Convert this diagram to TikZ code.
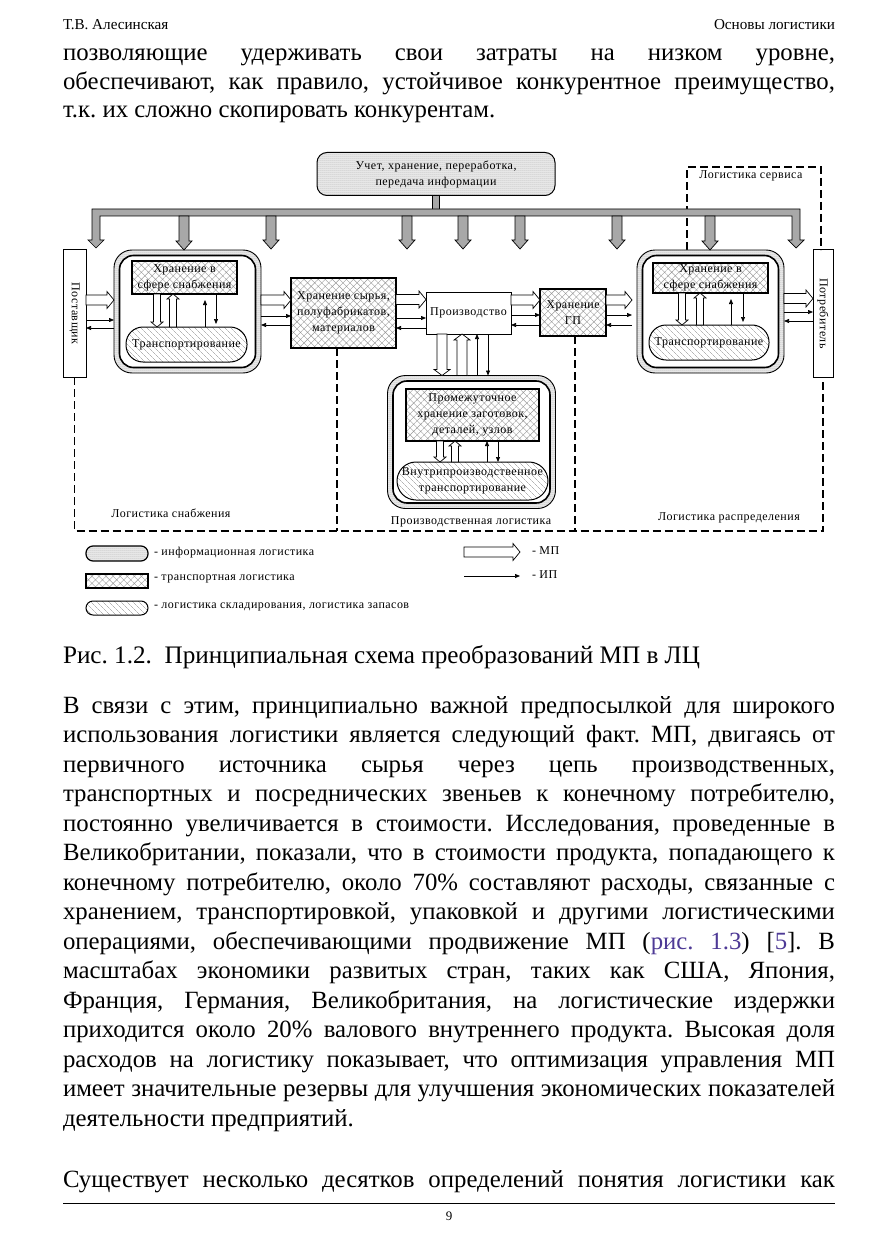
\documentclass[tikz,border=0pt]{standalone}
\usepackage{fontspec}
\setmainfont{Liberation Serif}
\newfontfamily\dgfont[LetterSpace=4]{Liberation Serif}
\usetikzlibrary{calc,patterns.meta,arrows.meta}
\newlength\Lw
\definecolor{linkc}{HTML}{4E3A96}
\definecolor{busgray}{HTML}{A8A8A8}
\frenchspacing
\tikzset{
 every node/.style={inner sep=0pt, outer sep=0pt},
 dg/.style={font=\dgfont\fontsize{12}{16}\selectfont, align=center},
 lbl/.style={font=\dgfont\fontsize{12}{14}\selectfont},
 infofill/.style={preaction={fill=gray!12}, pattern={Dots[distance=2pt,radius=0.5pt]}, pattern color=black!45},
 trfill/.style={preaction={fill=white}, pattern={Hatch[angle=45,distance=5pt,line width=0.4pt]}, pattern color=black!40},
 stfill/.style={preaction={fill=white}, pattern={Lines[angle=-45,distance=4pt,line width=0.4pt]}, pattern color=black!45},
 infobox/.style={draw, line width=1pt, rounded corners=10pt, infofill, dg},
 trbox/.style={draw, line width=1.4pt, trfill, dg},
 stbox/.style={draw, line width=1pt, rounded corners=17pt, stfill, dg},
 plainbox/.style={draw, line width=1pt, fill=white, dg},
 frameout/.style={draw, line width=0.9pt, rounded corners=18pt, infofill},
 framein/.style={draw, line width=1.6pt, rounded corners=14pt, fill=white},
 mpst/.style={draw, line width=0.7pt, fill=white, line join=miter},
 ip/.style={draw, line width=0.7pt, -{Triangle[length=5pt,width=4pt]}},
 grarrow/.style={draw, line width=0.7pt, fill=busgray},
 region/.style={draw, line width=1.6pt, dash pattern=on 8pt off 4pt},
}
% hollow (material flow) arrows: start, tip, half shaft, half head, head length
\newcommand\mpR[6][mpst]{\path[#1] ($(#2)+(0,-#4)$) -- ($(#3)+(-#6,-#4)$) -- ($(#3)+(-#6,-#5)$) -- (#3) -- ($(#3)+(-#6,#5)$) -- ($(#3)+(-#6,#4)$) -- ($(#2)+(0,#4)$) -- cycle;}
\newcommand\mpD[6][mpst]{\path[#1] ($(#2)+(-#4,0)$) -- ($(#3)+(-#4,-#6)$) -- ($(#3)+(-#5,-#6)$) -- (#3) -- ($(#3)+(#5,-#6)$) -- ($(#3)+(#4,-#6)$) -- ($(#2)+(#4,0)$) -- cycle;}
\newcommand\mpU[6][mpst]{\path[#1] ($(#2)+(-#4,0)$) -- ($(#3)+(-#4,#6)$) -- ($(#3)+(-#5,#6)$) -- (#3) -- ($(#3)+(#5,#6)$) -- ($(#3)+(#4,#6)$) -- ($(#2)+(#4,0)$) -- cycle;}
\newcommand\bodyf{\fontsize{\bodysz}{\bodysz}\selectfont}
\newcommand\jl[3]{\node[anchor=base west, font=\bodyf] (#1) at (63,#2) {\makebox[772pt][s]{#3}};}
\newcommand\nl[3]{\node[anchor=base west, font=\bodyf] (#1) at (63,#2) {#3};}
\begin{document}
\settowidth\Lw{\fontsize{20}{20}\selectfont имеет значительные резервы для улучшения экономических показателей}%
\pgfmathsetmacro\bodysz{20*770/\Lw}%
\settowidth\Lw{\fontsize{20}{20}\selectfont Основы логистики}%
\pgfmathsetmacro\headsz{20*121/\Lw}%
\settowidth\Lw{\fontsize{20}{20}\selectfont Рис. 1.2.\ \ Принципиальная схема преобразований МП в ЛЦ}%
\pgfmathsetmacro\capsz{20*637/\Lw}%
\begin{tikzpicture}[x=1pt,y=-1pt]
\useasboundingbox (0,0) rectangle (877,1241);
\fill[white] (0,0) rectangle (877,1241);

% ---------- page text ----------
\node[anchor=base west, font=\fontsize{\headsz}{\headsz}\selectfont] (hl) at (63,30) {Т.В. Алесинская};
\node[anchor=base east, font=\fontsize{\headsz}{\headsz}\selectfont] (hr) at (835,30) {Основы логистики};
\jl{t1}{61}{позволяющие удерживать свои затраты на низком уровне,}
\jl{t2}{89.5}{обеспечивают, как правило, устойчивое конкурентное преимущество,}
\nl{t3}{118}{т.к. их сложно скопировать конкурентам.}

\node[anchor=base west, font=\fontsize{\capsz}{\capsz}\selectfont] (cap) at (63,663) {Рис. 1.2.\ \ Принципиальная схема преобразований МП в ЛЦ};

\jl{p1}{713}{В связи с этим, принципиально важной предпосылкой для широкого}
\jl{p2}{742.5}{использования логистики является следующий факт. МП, двигаясь от}
\jl{p3}{772}{первичного источника сырья через цепь производственных,}
\jl{p4}{801.5}{транспортных и посреднических звеньев к конечному потребителю,}
\jl{p5}{831}{постоянно увеличивается в стоимости. Исследования, проведенные в}
\jl{p6}{860.5}{Великобритании, показали, что в стоимости продукта, попадающего к}
\jl{p7}{890}{конечному потребителю, около 70\% составляют расходы, связанные с}
\jl{p8}{919.5}{хранением, транспортировкой, упаковкой и другими логистическими}
\jl{p9}{949}{операциями, обеспечивающими продвижение МП (\textcolor{linkc}{рис. 1.3}) [\textcolor{linkc}{5}]. В}
\jl{p10}{978.5}{масштабах экономики развитых стран, таких как США, Япония,}
\jl{p11}{1008}{Франция, Германия, Великобритания, на логистические издержки}
\jl{p12}{1037.5}{приходится около 20\% валового внутреннего продукта. Высокая доля}
\jl{p13}{1067}{расходов на логистику показывает, что оптимизация управления МП}
\jl{p14}{1096.5}{имеет значительные резервы для улучшения экономических показателей}
\nl{p15}{1126}{деятельности предприятий.}
\jl{q1}{1187}{Существует несколько десятков определений понятия логистики как}
\draw[line width=0.8pt] (63,1203) coordinate (fr1) -- (835,1203) coordinate (fr2);
\node[font=\fontsize{13}{13}\selectfont] (pg) at (449,1216) {9};

% ---------- dashed regions ----------
\coordinate (sv1) at (687,167);
\coordinate (sv2) at (821,167);

% ---------- boxes ----------
\node[infobox, minimum width=238pt, minimum height=43pt] (info) at (436,174) {Учет, хранение, переработка,\\передача информации};
\node[plainbox, minimum width=23pt, minimum height=127pt] (post) at (74.5,313.5) {};
\node[dg, rotate=-90] (postT) at (post.center) {Поставщик};
\node[plainbox, minimum width=20pt, minimum height=127pt] (cons) at (823,313.5) {};
\node[dg, rotate=-90] (consT) at (cons.center) {Потребитель};

\draw[region] (post.south) -- (post.south |- 0,531) -- (cons.south |- 0,531) -- (cons.south);
\draw[region] (687,250) -- (sv1) -- (sv2) -- (cons.north -| sv2);

\node[frameout, minimum width=147pt, minimum height=123pt] (lframe) at (187.5,311.5) {};
\node[framein, minimum width=136pt, minimum height=112pt] (lframeIn) at (lframe.center) {};
\node[trbox, minimum width=105pt, minimum height=33pt] (lstore) at (184.5,277.5) {Хранение в\\сфере снабжения};
\node[stbox, minimum width=121pt, minimum height=35pt] (ltrans) at (186.5,344.5) {Транспортирование};

\node[trbox, minimum width=105pt, minimum height=70pt] (raw) at (343.5,313) {Хранение сырья,\\полуфабрикатов,\\материалов};
\node[plainbox, minimum width=85pt, minimum height=42pt] (prod) at (468.5,313) {Производство};
\node[trbox, minimum width=66pt, minimum height=47pt] (gp) at (573,312.5) {Хранение\\ГП};

\node[frameout, minimum width=147pt, minimum height=123pt] (rframe) at (710.5,311.5) {};
\node[framein, minimum width=136pt, minimum height=112pt] (rframeIn) at (rframe.center) {};
\node[trbox, minimum width=115pt, minimum height=30pt] (rstore) at (710.5,278) {Хранение в\\сфере снабжения};
\node[stbox, minimum width=120pt, minimum height=35pt] (rtrans) at (709,342.5) {Транспортирование};

\node[frameout, minimum width=168pt, minimum height=133pt] (mframe) at (471.5,442) {};
\node[framein, minimum width=157pt, minimum height=122pt] (mframeIn) at (mframe.center) {};
\node[trbox, minimum width=133pt, minimum height=52pt] (mstore) at (472.5,415) {Промежуточное\\хранение заготовок,\\деталей, узлов};
\node[stbox, rounded corners=19pt, minimum width=151pt, minimum height=38pt] (mtrans) at (472.5,481) {Внутрипроизводственное\\транспортирование};

\draw[region] (raw.south -| 337,0) -- (337,531);
\draw[region] (gp.south -| 575,0) -- (575,531);

% ---------- information bus ----------
\path[grarrow] (info.south -| 432,0) rectangle (439,209);
\path[grarrow] (92,209) -- (800,209) -- (800,240) -- (804,240) -- (796,248) -- (788,240) -- (792,240) -- (792,216) -- (100,216) -- (100,240) -- (104,240) -- (96,248) -- (88,240) -- (92,240) -- cycle;
\mpD[grarrow]{184,216}{lframe.north -| 184,0}{5}{8}{9}
\mpD[grarrow]{710,216}{rframe.north -| 710,0}{5}{8}{9}
\foreach \xx in {271,407,463,520,617} {\mpD[grarrow]{\xx,216}{\xx,249}{5}{8}{9}}

% ---------- flows between boxes ----------
\mpR{post.east |- 0,300}{lframe.west |- 0,300}{5}{8.5}{7}
\draw[ip] (post.east |- 0,320) -- (lframe.west |- 0,320);
\draw[ip] (lframe.west |- 0,328) -- (post.east |- 0,328);

\mpR{lframe.east |- 0,300}{raw.west |- 0,300}{5}{8.5}{7}
\draw[ip] (lframe.east |- 0,316) -- (raw.west |- 0,316);
\draw[ip] (raw.west |- 0,325) -- (lframe.east |- 0,325);

\mpR{raw.east |- 0,299.5}{prod.west |- 0,299.5}{5}{8.5}{7}
\draw[ip] (raw.east |- 0,318) -- (prod.west |- 0,318);
\draw[ip] (prod.west |- 0,328) -- (raw.east |- 0,328);

\mpR{prod.east |- 0,300}{gp.west |- 0,300}{5}{8.5}{7}
\draw[ip] (prod.east |- 0,315) -- (gp.west |- 0,315);
\draw[ip] (gp.west |- 0,325) -- (prod.east |- 0,325);

\coordinate (gpr) at ($(rframe.west |- 0,300)+(-5,0)$);
\mpR{gp.east |- 0,300}{gpr}{5}{8.5}{7}
\draw[ip, shorten >=5pt] (gp.east |- 0,315) -- (rframe.west |- 0,315);
\draw[ip, shorten <=5pt] (rframe.west |- 0,325) -- (gp.east |- 0,325);

\mpR{rframe.east |- 0,298.5}{cons.west |- 0,298.5}{5}{8.5}{7}
\draw[ip] (rframe.east |- 0,312) -- (cons.west |- 0,312);
\draw[ip] (cons.west |- 0,321) -- (rframe.east |- 0,321);

% production <-> middle frame
\mpD{prod.south -| 442,0}{mframe.north -| 442,0}{5}{8}{6}
\mpU{mframe.north -| 462,0}{prod.south -| 462,0}{5}{8}{6}
\draw[ip] (mframe.north -| 477,0) -- (prod.south -| 477,0);
\draw[ip] (prod.south -| 488,0) -- (mframe.north -| 488,0);

% inside frames
\mpD{lstore.south -| 157,0}{ltrans.north -| 157,0}{3.5}{6}{5}
\mpU{ltrans.north -| 173,0}{lstore.south -| 173,0}{3.5}{6}{5}
\draw[ip, shorten >=6pt] (ltrans.north -| 205,0) -- (lstore.south -| 205,0);
\draw[ip, shorten >=3pt] (lstore.south -| 216,0) -- (ltrans.north -| 216,0);

\mpD{rstore.south -| 682,0}{rtrans.north -| 682,0}{3.5}{6}{5}
\mpU{rtrans.north -| 700,0}{rstore.south -| 700,0}{3.5}{6}{5}
\draw[ip, shorten >=6pt] (rtrans.north -| 731,0) -- (rstore.south -| 731,0);
\draw[ip, shorten >=3pt] (rstore.south -| 743,0) -- (rtrans.north -| 743,0);

\mpD{mstore.south -| 440,0}{mtrans.north -| 440,0}{3.5}{6}{5}
\mpU{mtrans.north -| 455,0}{mstore.south -| 455,0}{3.5}{6}{5}
\draw[ip] (mtrans.north -| 487,0) -- (mstore.south -| 487,0);
\draw[ip] (mstore.south -| 498,0) -- (mtrans.north -| 498,0);

% ---------- region labels ----------
\node[lbl] (lsn) at (171,513) {Логистика снабжения};
\node[lbl] (lpr) at (471,522) {Производственная логистика};
\node[lbl] (lrs) at (729,518) {Логистика распределения};
\node[lbl] (lsv) at (751,176) {Логистика сервиса};

% ---------- legend ----------
\node[draw, line width=1.2pt, rounded corners=7pt, infofill, minimum width=62pt, minimum height=15pt] (lg1) at (117,553.5) {};
\node[lbl, anchor=west] (lg1t) at (154,553) {- информационная логистика};
\node[trbox, minimum width=62pt, minimum height=14pt] (lg2) at (117,581) {};
\node[lbl, anchor=west] (lg2t) at (154,579) {- транспортная логистика};
\node[stbox, rounded corners=7pt, minimum width=62pt, minimum height=14pt] (lg3) at (117,608) {};
\node[lbl, anchor=west] (lg3t) at (154,607) {- логистика складирования, логистика запасов};
\coordinate (mpa) at (464,552);
\coordinate (mpb) at (520,552);
\mpR{mpa}{mpb}{5}{8.5}{7}
\node[lbl, anchor=west] (mpt) at (532,551) {- МП};
\coordinate (ipa) at (464,576);
\coordinate (ipb) at (520,576);
\draw[ip] (ipa) -- (ipb);
\node[lbl, anchor=west] (ipt) at (532,575) {- ИП};
\end{tikzpicture}
\end{document}
